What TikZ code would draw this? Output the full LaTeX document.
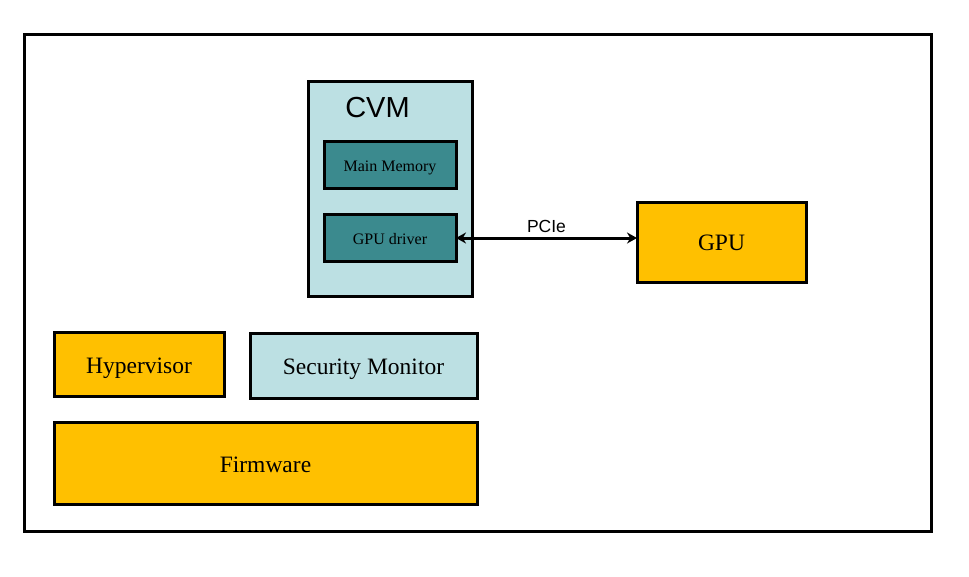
\documentclass[tikz,border=0pt]{standalone}
\usepackage{fontspec}
\setmainfont{Liberation Serif}
\newfontfamily\arialf{Liberation Sans}
\usetikzlibrary{arrows.meta}
\definecolor{orng}{HTML}{FFC000}
\definecolor{lblue}{HTML}{BCE0E3}
\definecolor{teal}{HTML}{3B8A8E}
\tikzset{
  box/.style={draw=black, line width=3pt, inner sep=0pt, outer sep=0pt},
  obox/.style={box, fill=orng},
  lbox/.style={box, fill=lblue},
  tbox/.style={box, fill=teal},
  big/.style={font=\fontsize{23.5}{26}\selectfont, inner sep=0pt},
  small/.style={font=\fontsize{16}{18}\selectfont, inner sep=0pt},
  link/.style={line width=3pt, {Stealth[length=10pt,width=11pt]}-{Stealth[length=10pt,width=11pt]}},
}
\begin{document}
\begin{tikzpicture}[x=1pt,y=-1pt]
\useasboundingbox (0,0) rectangle (969,576);
\node[box, fill=white, minimum width=907pt, minimum height=497pt] (frame) at (477.5,282.5) {};
\node[lbox, minimum width=164pt, minimum height=215pt] (cvm) at (390,188.5) {};
\node[font=\arialf\fontsize{29}{32}\selectfont] (cvmlbl) at (377.5,108) {CVM};
\node[tbox, minimum width=132pt, minimum height=47pt] (mem) at (390,164.5) {};
\node[small, yshift=-3.5pt] (memt) at (mem) {Main Memory};
\node[tbox, minimum width=132pt, minimum height=47pt] (drv) at (390,237.5) {};
\node[small, yshift=-2pt] (drvt) at (drv) {GPU driver};
\node[obox, minimum width=169pt, minimum height=80pt] (gpu) at (721.5,242) {};
\node[big, yshift=-1pt] (gput) at (gpu) {GPU};
\node[obox, minimum width=170pt, minimum height=64pt] (hyp) at (139,364) {};
\node[big, yshift=-4.5pt] (hypt) at (hyp) {Hypervisor};
\node[lbox, minimum width=227pt, minimum height=65pt] (sm) at (363.5,365.5) {};
\node[big, yshift=-4pt] (smt) at (sm) {Security Monitor};
\node[obox, minimum width=423pt, minimum height=82pt] (fw) at (265.5,463) {};
\node[big, yshift=-2pt] (fwt) at (fw) {Firmware};
\draw[link] (drv.east |- 0,238) -- node[above=1pt, font=\arialf\fontsize{17.5}{20}\selectfont] (pcie) {PCIe} (gpu.west |- 0,238);
\end{tikzpicture}
\end{document}
